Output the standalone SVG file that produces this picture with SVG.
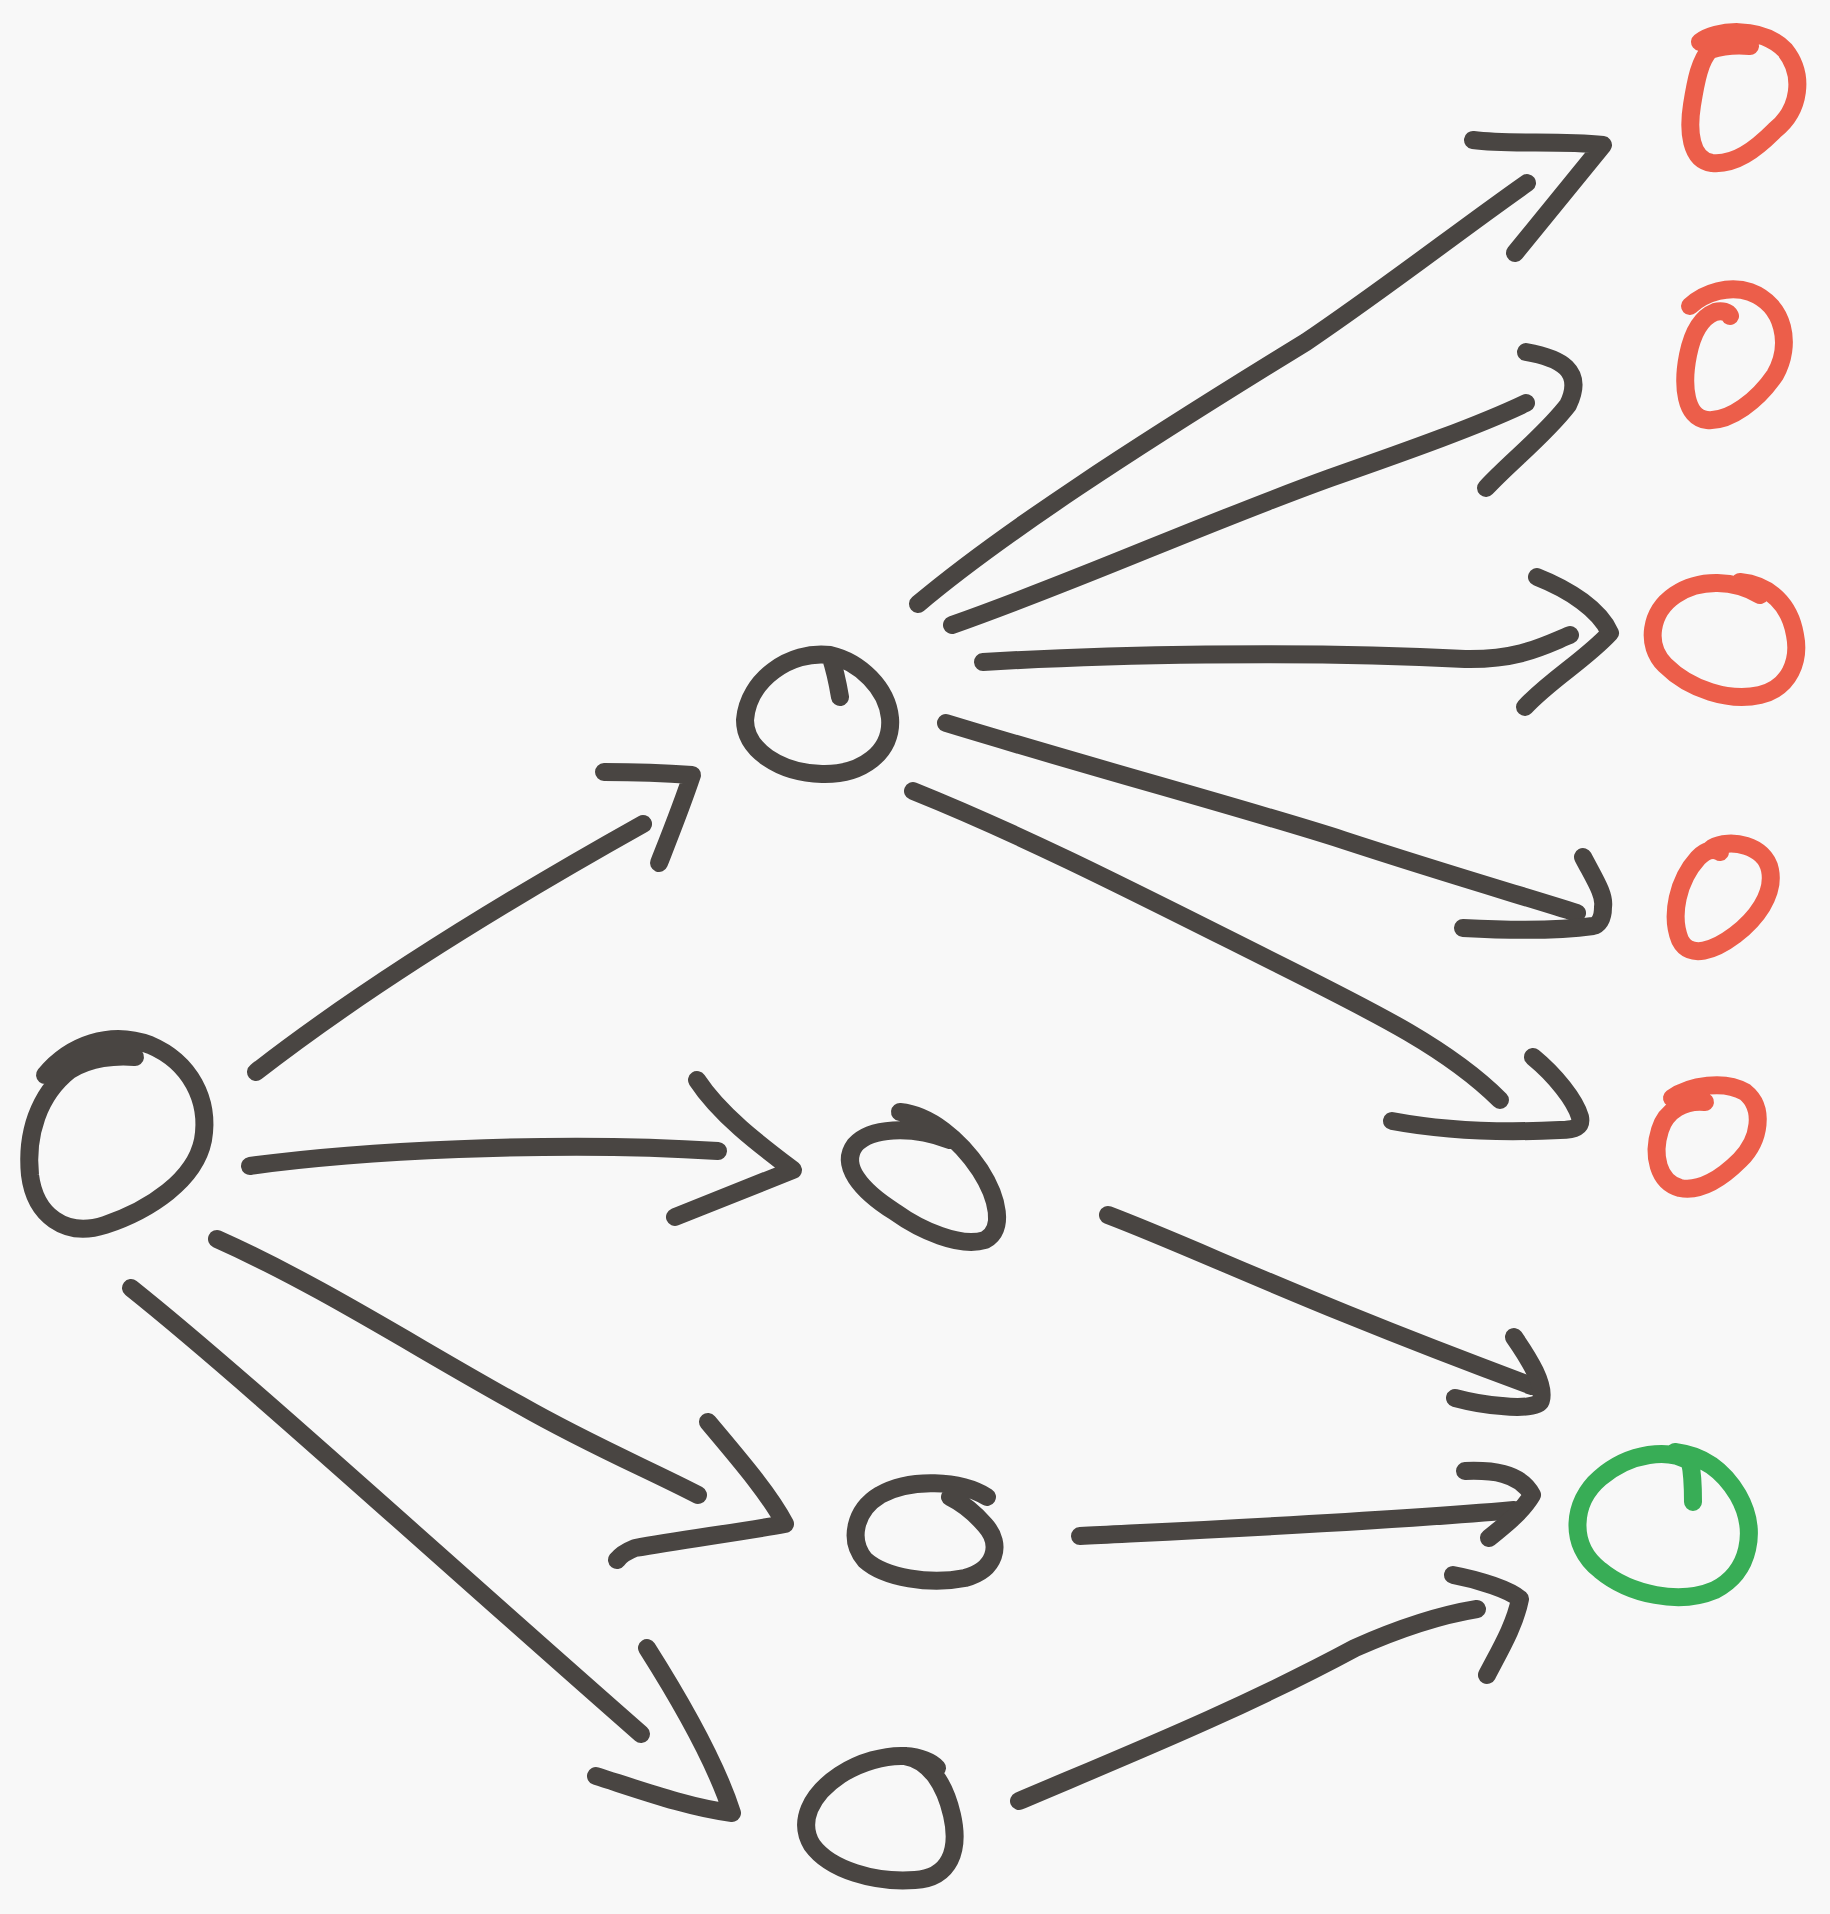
<svg xmlns="http://www.w3.org/2000/svg" width="1830" height="1914" viewBox="0 0 1830 1914">
<style>
.s{fill:none;stroke-linecap:round;stroke-linejoin:round;stroke-width:18}
.d{stroke:#494542}
.r{stroke:#ec5e4a}
.g{stroke:#38ad56}
</style>
<rect width="1830" height="1914" fill="#f8f8f8"/>
<g id="nodes">
<g id="root"><path class="s d" d="M 45 1075 C 70 1045, 110 1030, 150 1045 C 190 1062, 210 1100, 203 1140 C 195 1180, 150 1210, 105 1225 C 65 1238, 35 1215, 30 1175 C 26 1135, 38 1095, 70 1070 C 90 1058, 115 1055, 135 1057"/></g>
<g id="mid-top"><path class="s d" d="M 840 697 C 838 685, 835 670, 830 655 C 790 650, 748 680, 745 720 C 745 750, 780 773, 822 774 C 862 775, 893 752, 890 718 C 887 688, 860 662, 830 655"/></g>
<g id="mid-2"><path class="s d" d="M 900 1112 C 930 1115, 960 1140, 980 1170 C 998 1198, 1005 1230, 985 1240 C 960 1248, 920 1230, 895 1212 C 860 1190, 840 1165, 855 1145 C 870 1128, 910 1125, 950 1140"/></g>
<g id="mid-3"><path class="s d" d="M 987 1497 C 960 1480, 910 1478, 880 1495 C 855 1510, 848 1540, 865 1560 C 885 1578, 930 1585, 965 1578 C 995 1570, 1003 1545, 985 1525 C 972 1510, 960 1502, 950 1497"/></g>
<g id="mid-bottom"><path class="s d" d="M 905 1756 C 930 1760, 945 1785, 952 1815 C 960 1850, 950 1878, 915 1880 C 875 1883, 830 1870, 812 1845 C 798 1822, 810 1795, 840 1775 C 860 1762, 885 1755, 905 1756 C 920 1757, 932 1762, 937 1768"/></g>
<g id="red-1"><path class="s r" d="M 1700 42 C 1715 30, 1760 25, 1785 50 C 1805 75, 1800 110, 1775 130 C 1755 150, 1735 165, 1712 163 C 1690 160, 1688 130, 1692 105 C 1696 80, 1700 60, 1710 50 C 1725 45, 1740 45, 1750 46"/></g>
<g id="red-2"><path class="s r" d="M 1690 306 C 1705 292, 1730 285, 1750 292 C 1785 305, 1792 345, 1775 375 C 1758 400, 1730 422, 1707 420 C 1685 418, 1682 385, 1688 355 C 1692 335, 1700 318, 1715 312 C 1722 310, 1728 312, 1730 316"/></g>
<g id="red-3"><path class="s r" d="M 1760 595 C 1735 580, 1700 578, 1675 595 C 1650 612, 1645 645, 1665 665 C 1690 690, 1730 702, 1760 695 C 1790 688, 1800 660, 1795 635 C 1790 605, 1770 585, 1740 582"/></g>
<g id="red-4"><path class="s r" d="M 1712 848 C 1730 838, 1765 845, 1770 870 C 1775 895, 1755 920, 1735 935 C 1715 950, 1690 960, 1680 940 C 1670 915, 1678 880, 1698 858 C 1706 850, 1714 848, 1720 852"/></g>
<g id="red-5"><path class="s r" d="M 1672 1098 C 1690 1085, 1725 1080, 1745 1092 C 1765 1108, 1760 1140, 1740 1160 C 1722 1178, 1700 1192, 1680 1188 C 1658 1182, 1652 1155, 1660 1130 C 1666 1110, 1685 1100, 1705 1102"/></g>
<g id="green"><path class="s g" d="M 1693 1502 C 1693 1490, 1693 1475, 1690 1462 C 1670 1448, 1630 1452, 1600 1478 C 1572 1502, 1568 1545, 1600 1570 C 1630 1595, 1680 1605, 1715 1590 C 1750 1572, 1758 1530, 1738 1495 C 1722 1468, 1700 1455, 1675 1452"/></g>
</g>
<g id="connectors">
<path class="s d" d="M 256 1072 Q 400 960 643 824"/>
<path class="s d" d="M 604 772 C 630 772, 665 773, 692 775 C 682 805, 670 835, 659 863"/>
<path class="s d" d="M 250 1166 C 350 1152, 550 1140, 718 1151"/>
<path class="s d" d="M 697 1080 C 720 1115, 760 1145, 793 1170 L 675 1217"/>
<path class="s d" d="M 217 1239 C 320 1285, 420 1350, 520 1405 C 590 1445, 650 1470, 698 1495"/>
<path class="s d" d="M 708 1422 C 740 1460, 770 1495, 785 1524 C 740 1532, 680 1540, 635 1548 C 625 1552, 620 1556, 617 1560"/>
<path class="s d" d="M 131 1288 C 240 1375, 420 1540, 641 1734"/>
<path class="s d" d="M 647 1648 C 680 1700, 715 1760, 732 1813 C 690 1808, 640 1790, 596 1776"/>
<path class="s d" d="M 918 604 C 1000 535, 1130 450, 1306 342 C 1390 285, 1460 230, 1527 183"/>
<path class="s d" d="M 1473 140 C 1510 145, 1560 140, 1603 145 L 1515 253"/>
<path class="s d" d="M 952 625 C 1080 580, 1200 525, 1330 478 C 1410 450, 1480 425, 1526 403"/>
<path class="s d" d="M 1526 352 C 1560 358, 1585 370, 1568 405 C 1545 435, 1510 462, 1486 488"/>
<path class="s d" d="M 983 662 C 1100 655, 1300 650, 1465 659 C 1520 660, 1545 645, 1570 635"/>
<path class="s d" d="M 1537 577 C 1570 590, 1600 610, 1610 633 C 1585 660, 1550 680, 1525 707"/>
<path class="s d" d="M 946 723 C 1100 770, 1250 810, 1343 840 C 1450 875, 1520 895, 1577 913"/>
<path class="s d" d="M 1583 857 C 1595 880, 1605 895, 1603 907 C 1603 920, 1598 925, 1593 926 C 1550 932, 1500 930, 1463 928"/>
<path class="s d" d="M 913 791 C 1030 838, 1150 900, 1280 965 C 1380 1015, 1450 1050, 1500 1100"/>
<path class="s d" d="M 1533 1057 C 1555 1075, 1575 1100, 1580 1117 C 1582 1127, 1575 1130, 1560 1130 C 1500 1133, 1440 1130, 1392 1121"/>
<path class="s d" d="M 1108 1215 C 1200 1250, 1300 1300, 1532 1386"/>
<path class="s d" d="M 1514 1337 C 1530 1360, 1545 1385, 1541 1400 C 1540 1407, 1520 1408, 1502 1406 C 1485 1405, 1470 1402, 1455 1398"/>
<path class="s d" d="M 1080 1536 C 1200 1530, 1380 1522, 1514 1510"/>
<path class="s d" d="M 1465 1471 C 1490 1470, 1520 1472, 1532 1495 C 1522 1512, 1505 1525, 1489 1538"/>
<path class="s d" d="M 1019 1801 C 1120 1758, 1240 1710, 1355 1648 C 1400 1628, 1440 1615, 1477 1609"/>
<path class="s d" d="M 1453 1575 C 1480 1580, 1510 1590, 1520 1599 C 1515 1625, 1500 1650, 1487 1675"/>
</g>
</svg>
